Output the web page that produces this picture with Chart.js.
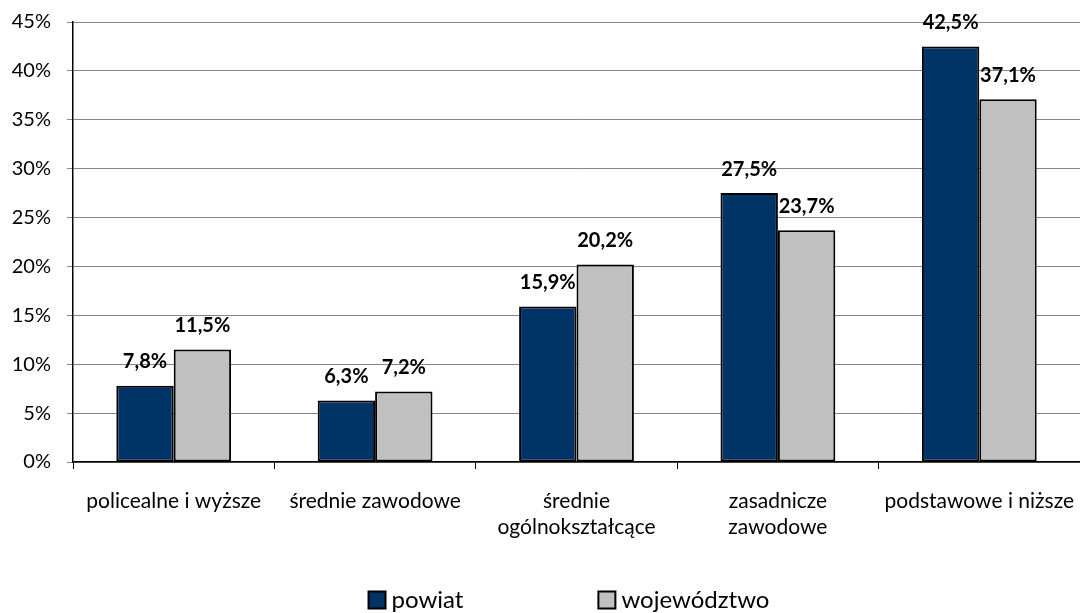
<!DOCTYPE html>
<html>
<head>
<meta charset="utf-8">
<script src="https://cdn.jsdelivr.net/npm/chart.js@4/dist/chart.umd.min.js"></script>
<style>
html,body{margin:0;padding:0;background:#fff;}
#wrap{width:1080px;height:613px;position:relative;}
</style>
</head>
<body>
<div id="wrap"><canvas id="c" width="1080" height="613"></canvas></div>
<script>
const categories = [
  "policealne i wyższe",
  "średnie zawodowe",
  ["średnie", "ogólnokształcące"],
  ["zasadnicze", "zawodowe"],
  "podstawowe i niższe"
];
const powiat = [7.8, 6.3, 15.9, 27.5, 42.5];
const wojewodztwo = [11.5, 7.2, 20.2, 23.7, 37.1];
const seriesNames = ["powiat", "województwo"];
const yTicks = [0, 5, 10, 15, 20, 25, 30, 35, 40, 45];

const FONT = "Lato, 'Open Sans', sans-serif";

const labelPlugin = {
  id: 'barLabels',
  afterDatasetsDraw(chart) {
    const ctx = chart.ctx;
    ctx.save();
    ctx.font = "bold 20px " + FONT;
    ctx.fillStyle = "#000";
    ctx.textAlign = "center";
    ctx.textBaseline = "middle";
    chart.data.datasets.forEach((ds, di) => {
      const meta = chart.getDatasetMeta(di);
      meta.data.forEach((bar, i) => {
        const txt = ds.data[i].toFixed(1).replace('.', ',') + '%';
        ctx.fillText(txt, bar.x, bar.y - 24);
      });
    });
    ctx.restore();
  }
};

const legendPlugin = {
  id: 'customLegend',
  afterDraw(chart) {
    const ctx = chart.ctx;
    ctx.save();
    ctx.font = "24px " + FONT;
    ctx.textBaseline = "middle";
    const box = 17, gapText = 6, gapItems = 135;
    const items = chart.data.datasets.map(ds => ({
      label: ds.label, color: ds.backgroundColor,
      w: box + gapText + ctx.measureText(ds.label).width
    }));
    const total = items.reduce((s, it) => s + it.w, 0) + gapItems * (items.length - 1);
    let x = 569 - total / 2;
    const y = 600;
    items.forEach(it => {
      ctx.fillStyle = it.color;
      ctx.fillRect(x, y - box / 2, box, box);
      ctx.strokeStyle = "#000";
      ctx.lineWidth = 2;
      ctx.strokeRect(x, y - box / 2, box, box);
      ctx.fillStyle = "#000";
      ctx.textAlign = "left";
      ctx.fillText(it.label, x + box + gapText, y);
      x += it.w + gapItems;
    });
    ctx.restore();
  }
};

new Chart(document.getElementById('c'), {
  type: 'bar',
  data: {
    labels: categories,
    datasets: [
      { label: seriesNames[0], data: powiat, backgroundColor: "#003366", borderColor: "#000", borderWidth: 2, borderSkipped: false },
      { label: seriesNames[1], data: wojewodztwo, backgroundColor: "#C0C0C0", borderColor: "#000", borderWidth: 2, borderSkipped: false }
    ]
  },
  options: {
    responsive: false,
    animation: false,
    devicePixelRatio: 1,
    layout: { padding: { top: 22, right: 0, bottom: 51, left: 0 } },
    datasets: { bar: { categoryPercentage: 0.57, barPercentage: 1.0 } },
    plugins: {
      legend: { display: false },
      tooltip: { enabled: false }
    },
    scales: {
      x: {
        offset: true,
        grid: { offset: true, drawOnChartArea: false, drawTicks: true, tickLength: 7, color: "#000", lineWidth: 1 },
        border: { color: "#000", width: 1.5 },
        ticks: { color: "#000", font: { family: FONT, size: 21 }, padding: 20, maxRotation: 0, autoSkip: false },
        afterFit(s) { s.height = 100; s.paddingLeft = 0; s.paddingRight = 0; }
      },
      y: {
        min: 0, max: 45,
        afterBuildTicks(s) { s.ticks = yTicks.map(v => ({ value: v })); },
        grid: { color: "#868686", lineWidth: 1, tickLength: 6, drawTicks: true },
        border: { color: "#000", width: 1.5 },
        ticks: { color: "#000", font: { family: FONT, size: 20 }, padding: 16, callback: v => v + '%' },
        afterFit(s) { s.width = 73; s.paddingTop = 0; s.paddingBottom = 0; }
      }
    }
  },
  plugins: [labelPlugin, legendPlugin]
});
</script>
</body>
</html>
